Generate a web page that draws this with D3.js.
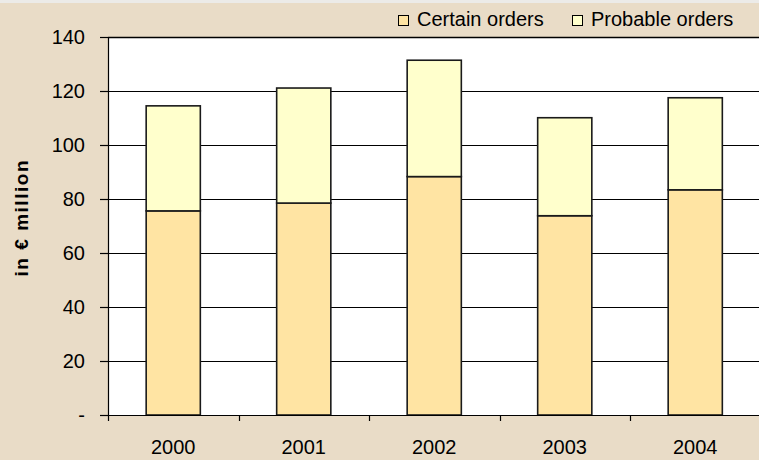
<!DOCTYPE html>
<html><head><meta charset="utf-8">
<script src="https://cdn.jsdelivr.net/npm/d3@7"></script>
<style>body{margin:0;background:#e9dcc7;}svg{display:block;}</style>
</head><body>
<script>
const years = ["2000","2001","2002","2003","2004"];
const certain = [75.6, 78.5, 88.3, 73.8, 83.4];
const probable = [38.9, 42.6, 43.1, 36.3, 34.1];
const yTicks = [0,20,40,60,80,100,120,140];
const seriesNames = ["Certain orders","Probable orders"];
const colors = ["#ffe4a3","#ffffcc"];

(function(){
const W=759,H=460;
const FONT="Liberation Sans, Arial, sans-serif";
const svg=d3.select("body").append("svg").attr("width",W).attr("height",H);
svg.append("rect").attr("width",W).attr("height",H).attr("fill","#e9dcc7");
svg.append("rect").attr("width",W).attr("height",3).attr("fill","#ecebe8");

const pL=108, pT=37, pB=415, pR=760.5;
const x=d3.scaleBand().domain(years).range([pL,pR]).paddingInner(0.585).paddingOuter(0.2925);
const y=d3.scaleLinear().domain([0,140]).range([pB,pT]);

svg.append("rect").attr("x",pL).attr("y",pT).attr("width",pR-pL).attr("height",pB-pT).attr("fill","#fff");

svg.append("g").selectAll("line").data(yTicks.filter(d=>d>0)).join("line")
  .attr("x1",pL).attr("x2",W).attr("y1",d=>y(d)+0.5).attr("y2",d=>y(d)+0.5)
  .attr("stroke","#000").attr("stroke-width",1.2);

const bars=svg.append("g");
years.forEach((yr,i)=>{
  const segs=[{y0:0,y1:certain[i],c:colors[0]},{y0:certain[i],y1:certain[i]+probable[i],c:colors[1]}];
  segs.forEach(g=>{
    bars.append("rect").attr("x",x(yr)).attr("width",x.bandwidth())
      .attr("y",y(g.y1)).attr("height",y(g.y0)-y(g.y1))
      .attr("fill",g.c).attr("stroke","#1a1a1a").attr("stroke-width",1.6);
  });
});

const yAxis=d3.axisLeft(y).tickValues(yTicks).tickSize(8).tickPadding(15)
  .tickFormat(d=>d===0?"-":d);
const ga=svg.append("g").attr("transform",`translate(${pL},0)`).call(yAxis);
ga.select(".domain").remove();
ga.selectAll("line").attr("stroke","#000").attr("stroke-width",1.2);
ga.selectAll("text").attr("font-family",FONT).attr("font-size",20).attr("fill","#000");
svg.append("line").attr("x1",pL+0.5).attr("x2",pL+0.5).attr("y1",pT).attr("y2",pB+6).attr("stroke","#000").attr("stroke-width",1.2);
svg.append("line").attr("x1",pL).attr("x2",W).attr("y1",pT+0.5).attr("y2",pT+0.5).attr("stroke","#000").attr("stroke-width",1.5);

const xAxis=d3.axisBottom(x).tickSize(0).tickPadding(25);
const gx=svg.append("g").attr("transform",`translate(0,${pB})`).call(xAxis);
gx.select(".domain").remove();
gx.selectAll("text").attr("font-family",FONT).attr("font-size",20).attr("fill","#000");
svg.append("line").attr("x1",pL).attr("x2",W).attr("y1",pB+0.5).attr("y2",pB+0.5).attr("stroke","#000").attr("stroke-width",1.2);
svg.append("g").selectAll("line").data(years.slice(1)).join("line")
  .attr("x1",d=>Math.round(x(d)-(x.step()-x.bandwidth())/2)+0.5)
  .attr("x2",d=>Math.round(x(d)-(x.step()-x.bandwidth())/2)+0.5)
  .attr("y1",pB).attr("y2",pB+6).attr("stroke","#000").attr("stroke-width",1.2);

svg.append("text").attr("transform","translate(28,218.5) rotate(-90)").attr("text-anchor","middle")
  .attr("font-family",FONT).attr("font-size",19).attr("font-weight","bold")
  .attr("textLength",116).attr("lengthAdjust","spacing").text("in € million");

const lg=svg.append("g");
const lx=[398,572];
seriesNames.forEach((n,i)=>{
  lg.append("rect").attr("x",lx[i]+0.5).attr("y",15.5).attr("width",10).attr("height",10).attr("fill",colors[i]).attr("stroke","#000").attr("stroke-width",1);
  lg.append("text").attr("x",lx[i]+19).attr("y",26).attr("font-family",FONT).attr("font-size",20).text(n);
});
})();
</script>
</body></html>
